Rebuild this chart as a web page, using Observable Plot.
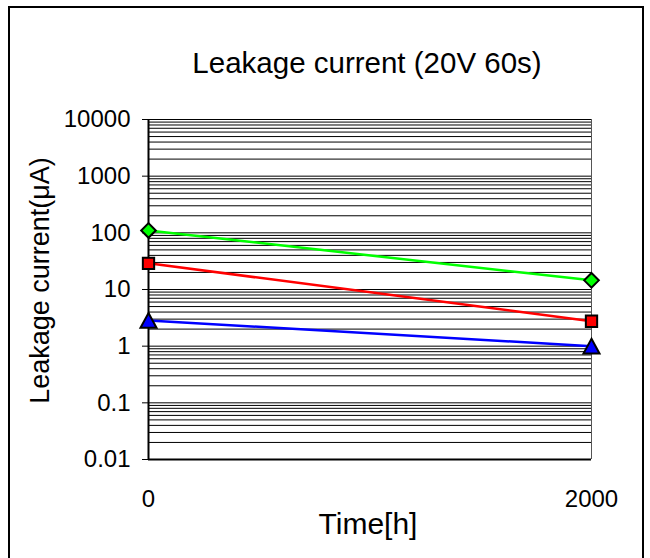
<!DOCTYPE html>
<html>
<head>
<meta charset="utf-8">
<script src="https://cdn.jsdelivr.net/npm/d3@7"></script>
<script src="https://cdn.jsdelivr.net/npm/@observablehq/plot@0.6"></script>
<style>
  html, body { margin: 0; padding: 0; background: #fff; }
  #chart { width: 650px; height: 558px; }
</style>
</head>
<body>
<div id="chart"></div>
<script>
// ---- data ----
const times = [0, 2000];
const seriesNames = ["S1", "S2", "S3"];
const s1Values = [110, 14.5];   // green diamonds
const s2Values = [29, 2.75];    // red squares
const s3Values = [2.85, 1.0];   // blue triangles
const seriesColors = ["#00FF00", "#FF0000", "#0000FF"];
const yTicks = [0.01, 0.1, 1, 10, 100, 1000, 10000];
const yTickLabels = ["0.01", "0.1", "1", "10", "100", "1000", "10000"];
const xTicks = [0, 2000];
const xTickLabels = ["0", "2000"];
const titleText = "Leakage current (20V 60s)";
const xLabel = "Time[h]";
const yLabel = "Leakage current(μA)";

// ---- build table ----
const valuesBySeries = [s1Values, s2Values, s3Values];
const data = [];
seriesNames.forEach((s, i) => {
  times.forEach((t, j) => data.push({series: s, time: t, value: valuesBySeries[i][j]}));
});

// minor + major grid values
const gridValues = [];
for (let e = -2; e < 4; e++) {
  for (let m = 1; m <= 9; m++) gridValues.push(m * Math.pow(10, e));
}
gridValues.push(10000);

// custom bbox-centered triangle
const triangle = {
  draw(context, size) {
    const h = Math.sqrt(size) * 1.0;
    const w = h * 1.1;
    context.moveTo(0, -h / 2 - 1);
    context.lineTo(w / 2 + 1, h / 2 + 1);
    context.lineTo(-w / 2 - 1, h / 2 + 1);
    context.closePath();
  }
};

const symbolList = ["diamond2", "square2", triangle];
const rList = [6.6, 7.2, 7.2];

const font = "'Liberation Sans', Arial, sans-serif";

const plot = Plot.plot({
  width: 650,
  height: 558,
  marginLeft: 148,
  marginRight: 59,
  marginTop: 119,
  marginBottom: 99,
  style: {fontFamily: font, background: "#fff", color: "#000"},
  x: {domain: [0, 2000], axis: null},
  y: {type: "log", domain: [0.01, 10000]},
  color: {domain: seriesNames, range: seriesColors},
  marks: [
    Plot.ruleY(gridValues, {stroke: "#000", strokeWidth: 1}),
    Plot.axisY({ticks: yTicks, tickFormat: d => yTickLabels[yTicks.indexOf(d)], tickSize: 6, tickPadding: 12, fontSize: 24, label: null, stroke: "#000"}),
    Plot.text(xTicks, {x: d => d, text: (d, i) => xTickLabels[i], frameAnchor: "bottom", dy: 47, fontSize: 24, fill: "#000"}),
    Plot.ruleX([2000], {stroke: "#555", strokeWidth: 1}),
    Plot.ruleX([0], {stroke: "#000", strokeWidth: 2}),
    Plot.ruleY([0.01], {stroke: "#000", strokeWidth: 2}),
    Plot.line(data, {x: "time", y: "value", z: "series", stroke: "series", strokeWidth: 2.5}),
    ...seriesNames.map((s, i) => Plot.dot(data.filter(d => d.series === s), {
      x: "time", y: "value", fill: "series", stroke: "#000", strokeWidth: 2,
      symbol: symbolList[i], r: rList[i]
    })),
    Plot.text([titleText], {frameAnchor: "top", dx: -3, dy: -67, fontSize: 29.5, fill: "#000"}),
    Plot.text([xLabel], {frameAnchor: "bottom", dx: -2, dy: 74, fontSize: 30, fill: "#000"}),
    Plot.text([yLabel], {frameAnchor: "left", textAnchor: "middle", dx: -108, dy: -9, rotate: -90, fontSize: 27, fill: "#000"})
  ]
});

d3.select(plot).append("rect")
  .attr("x", 9).attr("y", 7).attr("width", 634).attr("height", 570)
  .attr("fill", "none").attr("stroke", "#000").attr("stroke-width", 2);

document.getElementById("chart").appendChild(plot);
</script>
</body>
</html>
